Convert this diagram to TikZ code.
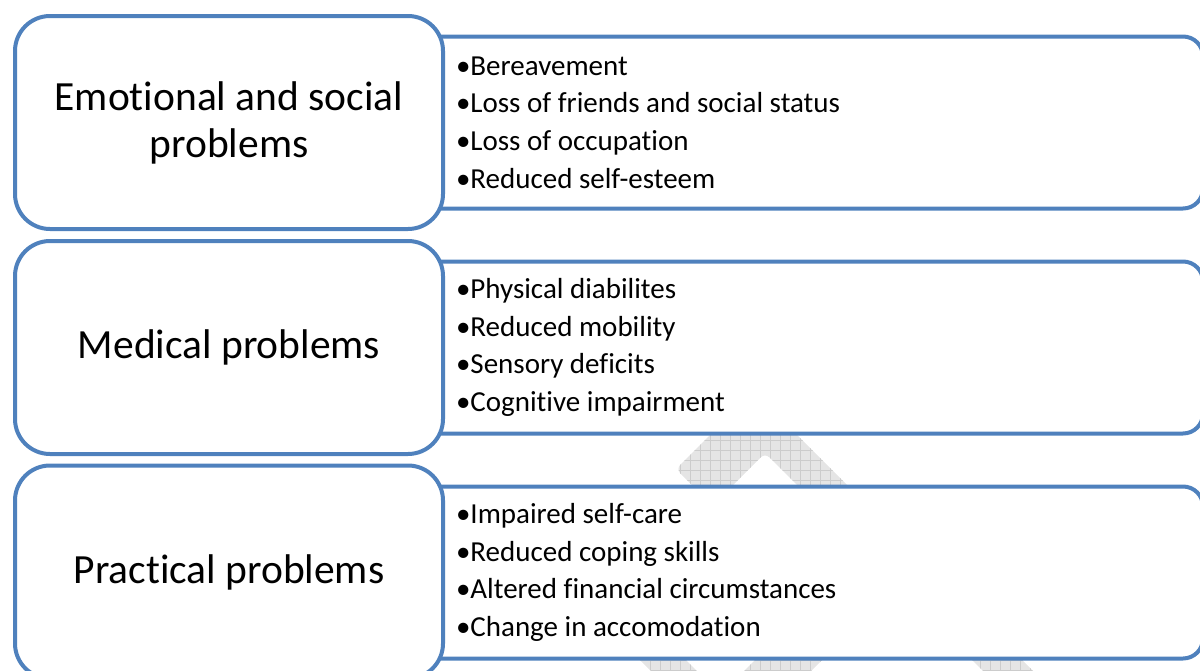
\documentclass[tikz,border=0pt]{standalone}
\usepackage{fontspec}
\setmainfont{Carlito}[Ligatures=NoCommon]
\usepackage{tikz}
\definecolor{bleu}{HTML}{4F81BD}
\tikzstyle{categorie}=[draw=bleu,line width=4pt,fill=white,rounded corners=35pt,minimum width=428pt,minimum height=213pt,align=center,font=\fontsize{41.5}{47}\selectfont]
\tikzstyle{liste}=[draw=bleu,line width=4pt,fill=white,rounded corners=20pt,minimum width=783pt,minimum height=172pt,text width=711pt,inner xsep=36pt,align=flush left,font=\fontsize{29}{37.7}\selectfont]
\tikzstyle{filigrane}=[fill=black!10]

\begin{document}
\begin{tikzpicture}[x=1pt,y=-1pt]
    \clip (0,0) rectangle (1200,670);
    % filigrane
    \begin{scope}
        \clip[rounded corners=6pt] (676,469) -- (753.5,391.5) -- (1070,708) -- (1020,708) -- (765,453) -- (712.5,505.5) -- cycle
            (540,560) -- (586,560) -- (730,704) -- (684,704) -- cycle
            (855,560) -- (922,560) -- (778,704) -- (711,704) -- cycle;
        \path[filigrane] (500,380) rectangle (1200,670);
        \draw[black!20,step=10pt] (500,380) grid (1200,670);
    \end{scope}
    % listes
    \foreach \y/\name/\texte in {122.5/emoliste/{•Bereavement\\•Loss of friends and social status\\•Loss of occupation\\•Reduced self-esteem}, 347.5/medliste/{•Physical diabilites\\•Reduced mobility\\•Sensory deficits\\•Cognitive impairment}, 572.5/pratliste/{•Impaired self-care\\•Reduced coping skills\\•Altered financial circumstances\\•Change in accomodation}}
        \node[liste] (\name) at (811.5,\y) {\texte};
    % categories
    \foreach \y/\name/\texte in {122.5/emo/{Emotional and social\\problems}, 347.5/med/{Medical problems}, 572/prat/{Practical problems}}
        \node[categorie] (\name) at (229,\y) {\texte};
\end{tikzpicture}
\end{document}
